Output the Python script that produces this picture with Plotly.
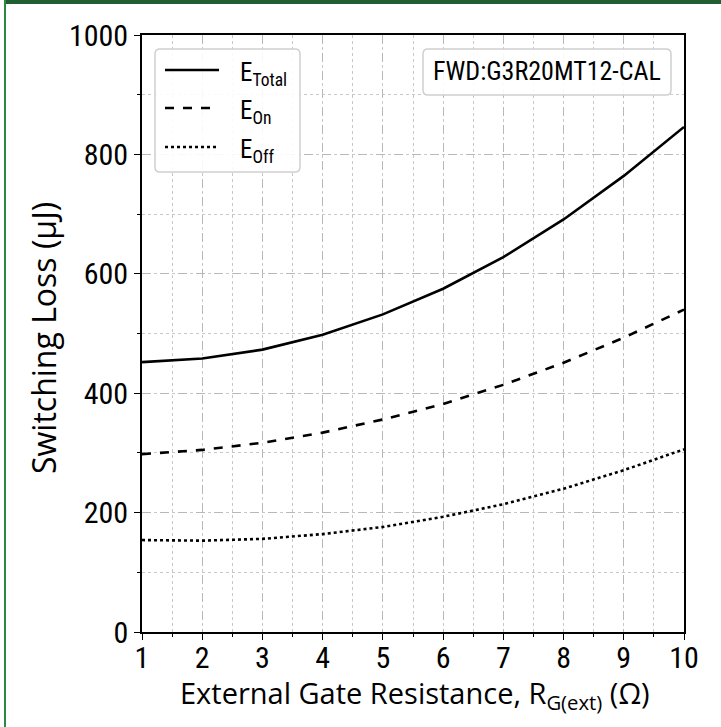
import plotly.graph_objects as go

# ---- data ----
rg = [1, 2, 3, 4, 5, 6, 7, 8, 9, 10]
e_total = [452, 458, 473, 498, 532, 575, 628, 691, 764, 846]
e_on = [298, 305, 317, 334, 356, 382, 414, 451, 493, 540]
e_off = [154, 153, 156, 164, 176, 193, 214, 240, 271, 306]
series_names = ["E<sub>Total</sub>", "E<sub>On</sub>", "E<sub>Off</sub>"]
x_ticks = [1, 2, 3, 4, 5, 6, 7, 8, 9, 10]
y_ticks = [0, 200, 400, 600, 800, 1000]
label_text = "FWD:G3R20MT12-CAL"
x_title = "External Gate Resistance, R<sub>G(ext)</sub> (Ω)"
y_title = "Switching Loss (μJ)"

# ---- layout constants (pixels) ----
W, H = 721, 727
L, R, T, B = 142, 684, 35, 632
PW, PH = R - L, B - T

def px(xp):
    return (xp - L) / PW

def py(yp):
    return (B - yp) / PH

def rounded_rect(x0, y0, x1, y1, r):
    ax, bx = px(x0), px(x1)
    ay, by = py(y0), py(y1)
    rx, ry = r / PW, r / PH
    return (f"M {ax+rx},{ay} L {bx-rx},{ay} Q {bx},{ay} {bx},{ay-ry} "
            f"L {bx},{by+ry} Q {bx},{by} {bx-rx},{by} L {ax+rx},{by} "
            f"Q {ax},{by} {ax},{by+ry} L {ax},{ay-ry} Q {ax},{ay} {ax+rx},{ay} Z")

NARROW = "Liberation Sans Narrow, Roboto Condensed, Roboto, sans-serif"
tick_font = dict(family=NARROW, size=30, color="black")

fig = go.Figure()
dashes = ["solid", "dash", "dot"]
for name, dash, vals in zip(series_names, dashes, [e_total, e_on, e_off]):
    fig.add_trace(go.Scatter(x=rg, y=vals, mode="lines", name=name, showlegend=False,
                             line=dict(color="black", width=2.6, dash=dash)))

grid_major = dict(showgrid=True, gridcolor="#b8b8b8", griddash="dash", gridwidth=1)
fig.update_xaxes(range=[1, 10], tickmode="array", tickvals=x_ticks,
                 ticks="outside", ticklen=6, tickwidth=1.2, tickcolor="black",
                 showline=True, linecolor="black", linewidth=1.6, mirror=True,
                 tickfont=tick_font, zeroline=False, ticklabelstandoff=-8,
                 minor=dict(dtick=0.5, showgrid=True, gridcolor="#c8c8c8", griddash="dot",
                            ticks="outside", ticklen=3, tickcolor="black"),
                 **grid_major)
fig.update_yaxes(range=[0, 1000], tickmode="array", tickvals=y_ticks,
                 ticks="outside", ticklen=6, tickwidth=1.2, tickcolor="black",
                 showline=True, linecolor="black", linewidth=1.6, mirror=True,
                 tickfont=tick_font, zeroline=False,
                 minor=dict(dtick=100, showgrid=True, gridcolor="#c8c8c8", griddash="dot",
                            ticks="outside", ticklen=3, tickcolor="black"),
                 **grid_major)

shapes = [
    dict(type="rect", xref="paper", yref="paper", x0=px(4), x1=px(W + 2), y0=py(4), y1=py(-2),
         fillcolor="#1f5f32", line=dict(width=0), layer="above"),
    dict(type="rect", xref="paper", yref="paper", x0=px(4), x1=px(6), y0=py(H + 2), y1=py(0),
         fillcolor="#2a8a45", line=dict(width=0), layer="above"),
    dict(type="path", xref="paper", yref="paper", path=rounded_rect(155, 49, 300, 172, 5),
         fillcolor="rgba(255,255,255,0.9)", line=dict(color="#d0d0d0", width=1.5), layer="above"),
    dict(type="path", xref="paper", yref="paper", path=rounded_rect(423, 49, 671, 95, 5),
         fillcolor="rgba(255,255,255,0.9)", line=dict(color="#d0d0d0", width=1.5), layer="above"),
]

annotations = [
    dict(text=label_text, xref="paper", yref="paper",
         x=(px(423) + px(671)) / 2, y=(py(49) + py(95)) / 2 + 0.002,
         xanchor="center", yanchor="middle", showarrow=False,
         font=dict(family=NARROW, size=26, color="black")),
    dict(text=x_title, xref="paper", yref="paper", x=px(415), y=py(694),
         xanchor="center", yanchor="middle", showarrow=False,
         font=dict(family="Open Sans, Lato, sans-serif", size=29, color="black")),
    dict(text=y_title, xref="paper", yref="paper", x=px(43), y=py(338), textangle=-90,
         xanchor="center", yanchor="middle", showarrow=False,
         font=dict(family="Open Sans, Lato, sans-serif", size=32, color="black")),
]

# custom legend (sample line + label)
row_y = [70, 108, 147]
for name, dash, ry in zip(series_names, dashes, row_y):
    shapes.append(dict(type="line", xref="paper", yref="paper",
                       x0=px(165), x1=px(219), y0=py(ry), y1=py(ry),
                       line=dict(color="black", width=2.6, dash=dash), layer="above"))
    annotations.append(dict(text=name, xref="paper", yref="paper",
                            x=px(238), y=py(ry + 4), xanchor="left", yanchor="middle",
                            showarrow=False, font=dict(family=NARROW, size=25, color="black")))

fig.update_layout(
    width=W, height=H,
    margin=dict(l=L, r=W - R, t=T, b=H - B),
    paper_bgcolor="white", plot_bgcolor="white",
    showlegend=False,
    shapes=shapes,
    annotations=annotations,
)

fig.write_html("out.html", config={"displayModeBar": False},
               post_script="document.body.style.margin='0';document.body.style.overflow='hidden';")
